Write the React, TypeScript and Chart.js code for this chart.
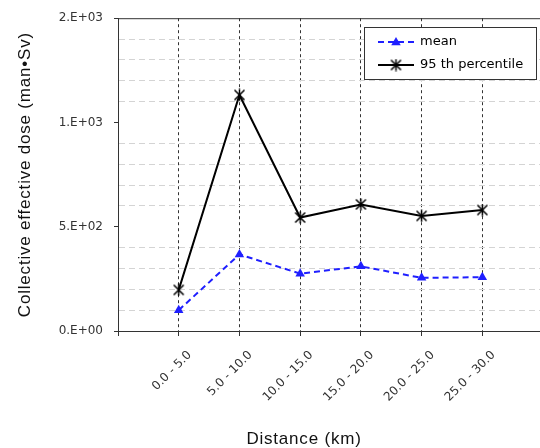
import React, { useEffect, useRef } from 'react';
import { Chart, registerables } from 'chart.js';

Chart.register(...registerables);

const categories = ['0.0 - 5.0', '5.0 - 10.0', '10.0 - 15.0', '15.0 - 20.0', '20.0 - 25.0', '25.0 - 30.0'];
const meanValues = [100, 367, 275, 310, 255, 258];
const p95Values = [197, 1132, 544, 607, 552, 580];
const yTickValues = [0, 500, 1000, 1500];
const yTickLabels = ['0.E+00', '5.E+02', '1.E+03', '2.E+03'];
const seriesLabels = ['mean', '95 th percentile'];
const xTitle = 'Distance (km)';
const yTitle = 'Collective effective dose (man\u2022Sv)';

function makeStar(): HTMLCanvasElement {
  const c = document.createElement('canvas');
  c.width = 13;
  c.height = 13;
  const g = c.getContext('2d')!;
  g.strokeStyle = '#000';
  g.lineWidth = 1.5;
  g.beginPath();
  g.moveTo(1.5, 1.5); g.lineTo(11.5, 11.5);
  g.moveTo(11.5, 1.5); g.lineTo(1.5, 11.5);
  g.moveTo(6.5, 0.5); g.lineTo(6.5, 12.5);
  g.stroke();
  return c;
}

function drawTriangle(ctx: CanvasRenderingContext2D, x: number, y: number, r: number, color: string) {
  ctx.beginPath();
  for (let i = 0; i < 3; i++) {
    const ang = (i * 2 * Math.PI) / 3;
    const px = x + Math.sin(ang) * r;
    const py = y - Math.cos(ang) * r;
    if (i === 0) ctx.moveTo(px, py); else ctx.lineTo(px, py);
  }
  ctx.closePath();
  ctx.fillStyle = color;
  ctx.fill();
}

export default function App() {
  const ref = useRef<HTMLCanvasElement>(null);

  useEffect(() => {
    const star = makeStar();
    const blue = '#1f1fff';
    const xTickPositions = [0, ...categories.map((_, i) => i + 1)];

    const decor = {
      id: 'decor',
      afterDraw(chart: any) {
        const { ctx, chartArea: a } = chart;
        ctx.save();
        // plot area top border
        ctx.strokeStyle = '#333';
        ctx.lineWidth = 1;
        ctx.beginPath();
        ctx.moveTo(a.left, a.top + 0.5);
        ctx.lineTo(a.right, a.top + 0.5);
        ctx.stroke();

        // axis titles
        ctx.fillStyle = '#111';
        ctx.font = '17px "Liberation Sans", Arial, sans-serif';
        (ctx as any).letterSpacing = '0.8px';
        ctx.textAlign = 'center';
        ctx.textBaseline = 'middle';
        ctx.save();
        ctx.translate(25, (a.top + a.bottom) / 2);
        ctx.rotate(-Math.PI / 2);
        ctx.fillText(yTitle, 0, 0);
        ctx.restore();
        ctx.textBaseline = 'alphabetic';
        ctx.fillText(xTitle, 304, 444);
        (ctx as any).letterSpacing = '0px';

        // legend
        const lx = 364.5, ly = 27.5, lw = 172, lh = 52;
        ctx.fillStyle = '#fff';
        ctx.fillRect(lx, ly, lw, lh);
        ctx.strokeStyle = '#333';
        ctx.lineWidth = 1;
        ctx.strokeRect(lx, ly, lw, lh);
        const ds = chart.data.datasets;
        const rows = [42, 65];
        ctx.font = '13px "DejaVu Sans", sans-serif';
        ctx.textAlign = 'left';
        ctx.textBaseline = 'middle';
        // mean
        ctx.strokeStyle = blue;
        ctx.lineWidth = 2;
        ctx.setLineDash([6, 4]);
        ctx.beginPath();
        ctx.moveTo(378, rows[0]);
        ctx.lineTo(414, rows[0]);
        ctx.stroke();
        ctx.setLineDash([]);
        drawTriangle(ctx, 396, rows[0] + 0.5, 5.5, blue);
        ctx.fillStyle = '#000';
        ctx.fillText(ds[0].label, 420, rows[0]);
        // 95th
        ctx.strokeStyle = '#000';
        ctx.lineWidth = 2;
        ctx.beginPath();
        ctx.moveTo(378, rows[1]);
        ctx.lineTo(414, rows[1]);
        ctx.stroke();
        ctx.drawImage(star, 396 - 6.5, rows[1] - 6.5);
        ctx.fillText(ds[1].label, 420, rows[1]);
        ctx.restore();
      },
    };

    const chart = new Chart(ref.current!, {
      type: 'line',
      data: {
        datasets: [
          {
            label: seriesLabels[0],
            data: meanValues.map((v, i) => ({ x: i + 1, y: v })),
            borderColor: blue,
            backgroundColor: blue,
            borderWidth: 2,
            borderDash: [6, 4],
            pointStyle: 'triangle',
            pointRadius: 5.5,
            pointBorderWidth: 0,
            pointBackgroundColor: blue,
            fill: false,
            tension: 0,
          },
          {
            label: seriesLabels[1],
            data: p95Values.map((v, i) => ({ x: i + 1, y: v })),
            borderColor: '#000',
            backgroundColor: '#000',
            borderWidth: 2,
            pointStyle: star as any,
            pointRadius: 6,
            fill: false,
            tension: 0,
          },
        ],
      },
      options: {
        animation: false,
        responsive: false,
        events: [],
        layout: { autoPadding: false, padding: { top: 16, left: 0, right: 0, bottom: 0 } },
        plugins: {
          legend: { display: false },
          tooltip: { enabled: false },
        },
        scales: {
          x: {
            type: 'linear',
            min: 0,
            max: 6.95,
            afterBuildTicks: (scale: any) => {
              scale.ticks = xTickPositions.map((v) => ({ value: v }));
            },
            afterFit: (scale: any) => {
              scale.height = 117;
              scale.paddingLeft = 0;
              scale.paddingRight = 0;
            },
            grid: {
              color: (c: any) => (c.tick && c.tick.value === 0 ? 'rgba(0,0,0,0)' : '#333'),
              tickColor: '#333',
              tickLength: 5,
              lineWidth: 1,
            },
            border: { color: '#333', width: 1, dash: [3, 3] },
            ticks: {
              autoSkip: false,
              minRotation: 45,
              maxRotation: 45,
              padding: 12,
              labelOffset: 11,
              color: '#333',
              font: { family: '"DejaVu Sans", sans-serif', size: 12 },
              callback: (v: any) => (v >= 1 && v <= categories.length ? categories[v - 1] : ''),
            },
          },
          y: {
            type: 'linear',
            min: 0,
            max: 1500,
            afterFit: (scale: any) => {
              scale.width = 118;
            },
            grid: {
              color: (c: any) => (c.tick && c.tick.value % 500 === 0 ? 'rgba(0,0,0,0)' : '#d4d4d4'),
              tickColor: (c: any) => (c.tick && c.tick.value % 500 === 0 ? '#333' : 'rgba(0,0,0,0)'),
              tickLength: 4,
              lineWidth: 1,
            },
            border: { color: '#333', width: 1, dash: [6, 4] },
            ticks: {
              stepSize: 100,
              autoSkip: false,
              padding: 11,
              color: '#333',
              font: { family: '"DejaVu Sans", sans-serif', size: 12 },
              callback: (v: any) => {
                const idx = yTickValues.indexOf(v);
                return idx >= 0 ? yTickLabels[idx] : '';
              },
            },
          },
        },
      },
      plugins: [decor],
    } as any);
    return () => chart.destroy();
  }, []);

  return (
    <div style={{ position: 'fixed', left: 0, top: 0, width: 540, height: 448, background: '#fff' }}>
      <canvas ref={ref} width={540} height={448} style={{ display: 'block' }} />
    </div>
  );
}
